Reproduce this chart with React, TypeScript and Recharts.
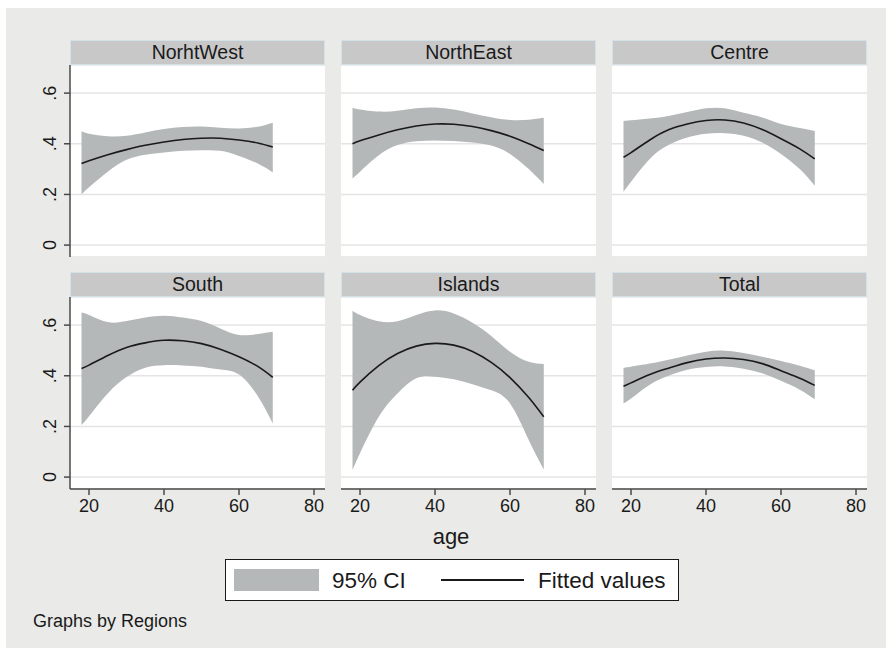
import { Area, CartesianGrid, ComposedChart, Line, XAxis, YAxis } from 'recharts'

const AGES = [18, 20, 25, 30, 35, 40, 45, 50, 55, 60, 65, 69]
const X_TICKS = [20, 40, 60, 80]
const Y_TICKS = [0, 0.2, 0.4, 0.6]
const Y_TICK_LABELS: Record<string, string> = { '0': '0', '0.2': '.2', '0.4': '.4', '0.6': '.6' }

const NORTHWEST_FIT = [0.322, 0.333, 0.357, 0.377, 0.394, 0.407, 0.417, 0.422, 0.422, 0.415, 0.403, 0.387]
const NORTHWEST_LO = [0.2, 0.228, 0.29, 0.337, 0.357, 0.366, 0.372, 0.374, 0.372, 0.352, 0.322, 0.287]
const NORTHWEST_HI = [0.449, 0.44, 0.43, 0.432, 0.445, 0.458, 0.466, 0.468, 0.463, 0.46, 0.467, 0.483]

const NORTHEAST_FIT = [0.4, 0.412, 0.435, 0.455, 0.47, 0.478, 0.477, 0.468, 0.452, 0.43, 0.4, 0.373]
const NORTHEAST_LO = [0.264, 0.29, 0.355, 0.395, 0.41, 0.413, 0.411, 0.405, 0.393, 0.36, 0.3, 0.241]
const NORTHEAST_HI = [0.542, 0.535, 0.527, 0.53, 0.54, 0.543, 0.535, 0.52, 0.505, 0.494, 0.495, 0.503]

const CENTRE_FIT = [0.347, 0.365, 0.415, 0.455, 0.478, 0.492, 0.494, 0.482, 0.456, 0.42, 0.38, 0.34]
const CENTRE_LO = [0.211, 0.25, 0.34, 0.395, 0.425, 0.44, 0.442, 0.432, 0.405, 0.36, 0.3, 0.234]
const CENTRE_HI = [0.49, 0.493, 0.5, 0.51, 0.525, 0.54, 0.54, 0.522, 0.504, 0.478, 0.462, 0.45]

const SOUTH_FIT = [0.429, 0.442, 0.48, 0.512, 0.53, 0.54, 0.538, 0.527, 0.505, 0.475, 0.437, 0.394]
const SOUTH_LO = [0.205, 0.24, 0.33, 0.395, 0.432, 0.442, 0.441, 0.436, 0.425, 0.405, 0.32, 0.212]
const SOUTH_HI = [0.65, 0.64, 0.612, 0.616, 0.63, 0.637, 0.63, 0.616, 0.587, 0.561, 0.565, 0.574]

const ISLANDS_FIT = [0.343, 0.375, 0.44, 0.488, 0.517, 0.528, 0.521, 0.496, 0.453, 0.393, 0.314, 0.238]
const ISLANDS_LO = [0.028, 0.094, 0.238, 0.33, 0.39, 0.396, 0.386, 0.367, 0.343, 0.291, 0.146, 0.03]
const ISLANDS_HI = [0.657, 0.64, 0.615, 0.615, 0.64, 0.658, 0.646, 0.609, 0.557, 0.495, 0.455, 0.446]

const TOTAL_FIT = [0.359, 0.372, 0.405, 0.43, 0.452, 0.466, 0.47, 0.464, 0.448, 0.42, 0.39, 0.362]
const TOTAL_LO = [0.291, 0.31, 0.365, 0.4, 0.424, 0.435, 0.437, 0.428, 0.41, 0.38, 0.345, 0.307]
const TOTAL_HI = [0.432, 0.436, 0.448, 0.463, 0.48, 0.495, 0.499, 0.49, 0.475, 0.458, 0.44, 0.422]

const REGIONS = ['NorhtWest', 'NorthEast', 'Centre', 'South', 'Islands', 'Total']
const FITS = [NORTHWEST_FIT, NORTHEAST_FIT, CENTRE_FIT, SOUTH_FIT, ISLANDS_FIT, TOTAL_FIT]
const LOWS = [NORTHWEST_LO, NORTHEAST_LO, CENTRE_LO, SOUTH_LO, ISLANDS_LO, TOTAL_LO]
const HIGHS = [NORTHWEST_HI, NORTHEAST_HI, CENTRE_HI, SOUTH_HI, ISLANDS_HI, TOTAL_HI]

const FONT = '"Liberation Sans", Arial, sans-serif'
const BAND = '#b4b8b8'
const INK = '#1a1a1a'
const AXIS = '#4a4a4a'

const COL_LEFT = [70, 341, 612]
const ROW_TOP = [65, 297]
const PLOT_W = 255
const PLOT_H = 192
const HEAD_H = 25
const Y_AXIS_W = 40
const X_AXIS_H = 36

function YTick(props: any) {
	const { x, y, payload } = props
	const bx = x - 7
	return (
		<text
			x={bx}
			y={y}
			transform={`rotate(-90 ${bx} ${y})`}
			textAnchor='middle'
			fontSize={18}
			fill={INK}
		>
			{Y_TICK_LABELS[String(payload.value)] ?? payload.value}
		</text>
	)
}

function Panel({ idx }: { idx: number }) {
	const row = Math.floor(idx / 3)
	const col = idx % 3
	const showY = col === 0
	const showX = row === 1
	const data = AGES.map((age, i) => ({
		age,
		fit: FITS[idx][i],
		ci: [LOWS[idx][i], HIGHS[idx][i]],
	}))
	const left = COL_LEFT[col] - (showY ? Y_AXIS_W : 0)
	const top = ROW_TOP[row]
	return (
		<>
			<div
				style={{
					position: 'absolute',
					left: COL_LEFT[col],
					top: top - HEAD_H,
					width: PLOT_W,
					height: HEAD_H,
					boxSizing: 'border-box',
					background: '#c8c8c8',
					border: '1px solid #d3e2e8',
					textAlign: 'center',
					fontSize: 19.5,
					lineHeight: `${HEAD_H - 2}px`,
					color: INK,
				}}
			>
				{REGIONS[idx]}
			</div>
			<div style={{ position: 'absolute', left, top }}>
				<ComposedChart
					width={PLOT_W + (showY ? Y_AXIS_W : 0)}
					height={PLOT_H + (showX ? X_AXIS_H : 0)}
					data={data}
					margin={{ top: 0, right: 0, bottom: 0, left: 0 }}
				>
					<CartesianGrid
						vertical={false}
						fill='#ffffff'
						fillOpacity={1}
						stroke='#e4e4e4'
						strokeWidth={1.5}
					/>
					<XAxis
						dataKey='age'
						type='number'
						domain={[14.93, 82.93]}
						ticks={X_TICKS}
						allowDataOverflow
						hide={!showX}
						height={X_AXIS_H}
						tickSize={6}
						tickMargin={4}
						tick={{ fontSize: 18, fill: INK }}
						axisLine={{ stroke: AXIS, strokeWidth: 1.5 }}
						tickLine={{ stroke: AXIS, strokeWidth: 1.5 }}
					/>
					<YAxis
						type='number'
						domain={[-0.047, 0.711]}
						ticks={Y_TICKS}
						allowDataOverflow
						hide={!showY}
						width={Y_AXIS_W}
						tickSize={6}
						tickMargin={1}
						tick={<YTick />}
						axisLine={{ stroke: AXIS, strokeWidth: 1.5 }}
						tickLine={{ stroke: AXIS, strokeWidth: 1.5 }}
					/>
					<Area
						type='natural'
						dataKey='ci'
						fill={BAND}
						fillOpacity={1}
						stroke='none'
						isAnimationActive={false}
					/>
					<Line
						type='natural'
						dataKey='fit'
						stroke={INK}
						strokeWidth={1.6}
						dot={false}
						activeDot={false}
						isAnimationActive={false}
					/>
				</ComposedChart>
			</div>
		</>
	)
}

export default function App() {
	return (
		<div
			style={{
				position: 'absolute',
				left: 0,
				top: 0,
				width: 886,
				height: 651,
				background: '#ffffff',
				fontFamily: FONT,
				color: INK,
			}}
		>
			<div
				style={{
					position: 'absolute',
					left: 6,
					top: 8,
					width: 880,
					height: 640,
					background: '#eaeae8',
				}}
			/>
			{REGIONS.map((_, i) => (
				<Panel key={i} idx={i} />
			))}
			<div
				style={{
					position: 'absolute',
					left: 351,
					top: 526,
					width: 200,
					textAlign: 'center',
					fontSize: 22,
					lineHeight: '22px',
				}}
			>
				age
			</div>
			<div
				style={{
					position: 'absolute',
					left: 225,
					top: 559,
					width: 454,
					height: 42,
					boxSizing: 'border-box',
					border: '1.5px solid #1a1a1a',
					background: '#ffffff',
				}}
			/>
			<div style={{ position: 'absolute', left: 234, top: 569, width: 85, height: 22, background: BAND }} />
			<div style={{ position: 'absolute', left: 332, top: 570, fontSize: 22.5, lineHeight: '22px' }}>
				95% CI
			</div>
			<div style={{ position: 'absolute', left: 441, top: 579, width: 83, height: 2, background: INK }} />
			<div style={{ position: 'absolute', left: 538, top: 570, fontSize: 22.5, lineHeight: '22px' }}>
				Fitted values
			</div>
			<div style={{ position: 'absolute', left: 33, top: 612, fontSize: 18, lineHeight: '18px' }}>
				Graphs by Regions
			</div>
		</div>
	)
}
